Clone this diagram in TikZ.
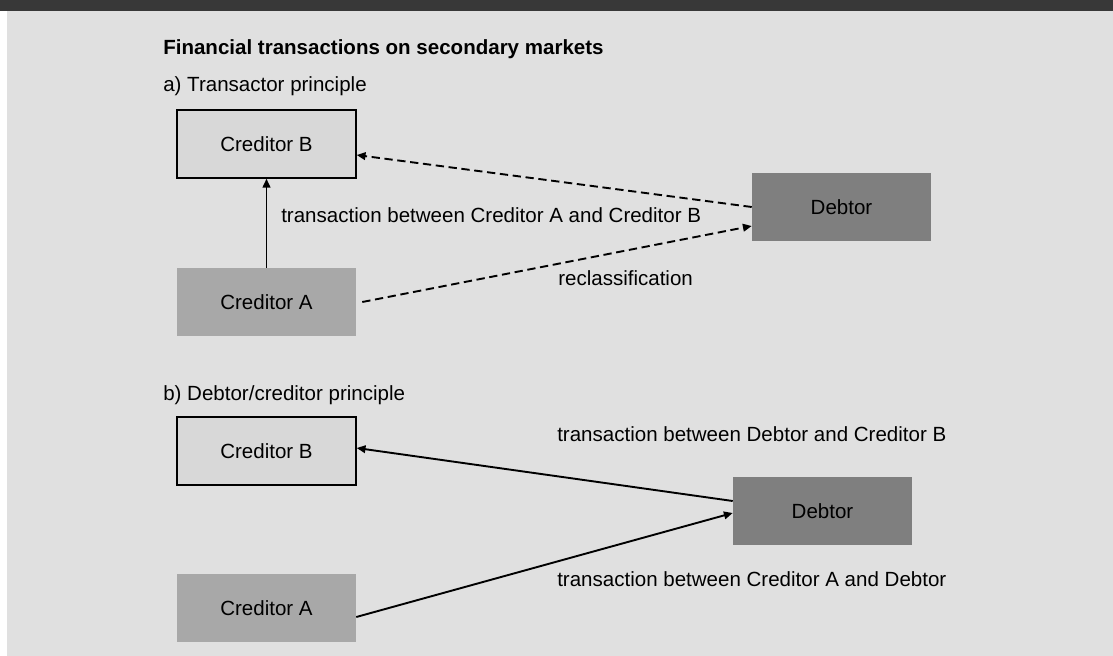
\documentclass[tikz,border=0pt]{standalone}
\usepackage{fontspec}
\setmainfont{Liberation Sans}
\usetikzlibrary{calc,arrows.meta}

\definecolor{panelgray}{HTML}{E0E0E0}
\definecolor{bargray}{HTML}{383838}
\definecolor{lightbox}{HTML}{D8D8D8}
\definecolor{midbox}{HTML}{A8A8A8}
\definecolor{darkbox}{HTML}{7F7F7F}

\tikzset{
	party/.style={minimum width=4.475cm, minimum height=1.7cm, inner sep=0pt, font=\fontsize{14.6}{17}\selectfont},
	txt/.style={anchor=base west, inner sep=0pt, font=\fontsize{14.6}{17}\selectfont},
	flow/.style={line width=1.35pt, -{Triangle[length=0.22cm, width=0.19cm]}},
	reclass/.style={flow, dash pattern=on 5.9pt off 3.3pt}
}

\begin{document}
\begin{tikzpicture}
			%%%%% START %%%%%
			
			\useasboundingbox (0, 0) rectangle (27.825, -16.4);
			\fill[white] (0, 0) rectangle (27.825, -16.4);
			\fill[panelgray] (0.175, -0.275) rectangle (27.825, -16.4);
			\fill[bargray] (0, 0) rectangle (27.825, -0.275);
			
			\node[txt, font=\fontsize{14.6}{17}\selectfont\bfseries] (title) at (4.075, -1.375) {Financial transactions on secondary markets};
			
			% a) transactor principle
			\node[txt] (heada) at (4.075, -2.3) {a) Transactor principle};
			\node[party, draw=black, line width=1pt, fill=lightbox] (credBa) at (6.6625, -3.6) {Creditor B};
			\node[party, fill=midbox] (credAa) at (6.6625, -7.55) {Creditor A};
			\node[party, fill=darkbox] (debta) at (21.0375, -5.175) {Debtor};
			
			\draw[flow] (credAa) -- (credBa);
			\draw[reclass] (debta.west) -- ($(credBa.east)+(0, -0.275)$);
			\draw[reclass] ($(credAa.east)+(0.15, 0)$) -- ($(debta.west)+(0, -0.475)$);
			
			\node[txt] (lblAB) at (7.025, -5.55) {transaction between Creditor A and Creditor B};
			\node[txt] (lblrecl) at (13.95, -7.125) {reclassification};
			
			% b) debtor/creditor principle
			\node[txt] (headb) at (4.075, -10.0125) {b) Debtor/creditor principle};
			\node[party, draw=black, line width=1pt, fill=lightbox] (credBb) at (6.6625, -11.275) {Creditor B};
			\node[party, fill=midbox] (credAb) at (6.6625, -15.2) {Creditor A};
			\node[party, fill=darkbox] (debtb) at (20.5625, -12.775) {Debtor};
			
			\draw[flow] ($(debtb.west)+(0, 0.25)$) -- ($(credBb.east)+(0, 0.075)$);
			\draw[flow] ($(credAb.east)+(0, -0.225)$) -- ($(debtb.west)+(0, -0.05)$);
			
			\node[txt] (lblDB) at (13.925, -11.025) {transaction between Debtor and Creditor B};
			\node[txt] (lblAD) at (13.925, -14.65) {transaction between Creditor A and Debtor};
			
			%%%%% END %%%%%
		\end{tikzpicture}
\end{document}
